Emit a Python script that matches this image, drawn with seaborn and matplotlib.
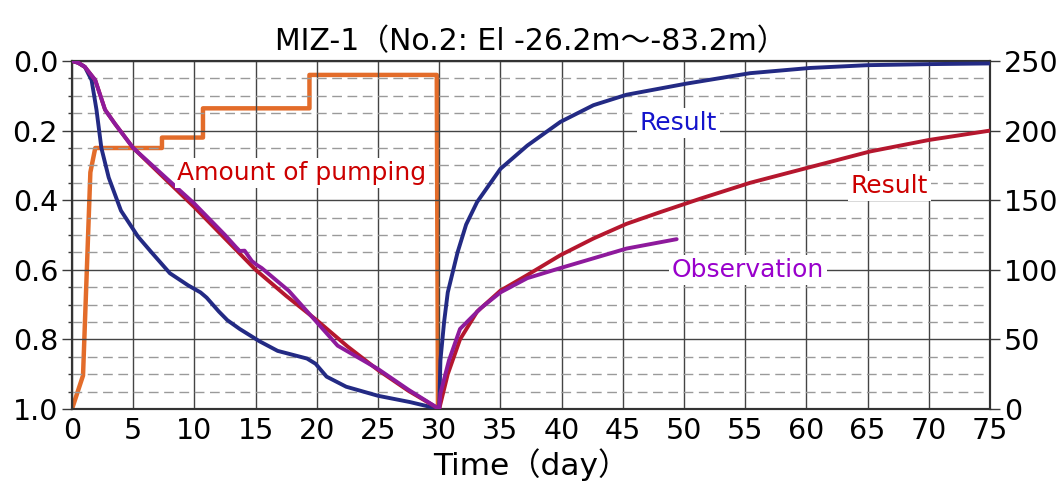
import numpy as np
import pandas as pd
import matplotlib
matplotlib.use("Agg")
import matplotlib.pyplot as plt
import seaborn as sns
from matplotlib.ticker import MultipleLocator

# ---------------- data ----------------
pump_day = [0, 0.9, 1.5, 1.9, 7.35, 7.35, 10.7, 10.7, 19.4, 19.4, 29.8, 29.9]
pump_val = [0, 24, 170, 187.5, 187.5, 195, 195, 216, 216, 240, 240, 0]

blue_day = [0, 0.5, 1.05, 1.6, 2.0, 2.4, 3.0, 4.0, 5.4, 6.5, 8.0, 9.5, 10.5, 11.0, 12.0,
            12.7, 13.7, 15.3, 16.8, 19.2, 19.9, 20.8, 22.4, 25.0, 27.6, 30.0,
            30.1, 30.4, 30.7, 31.5, 32.2, 33.1, 35.0, 37.2, 39.9, 42.6, 45.3, 50.2,
            55.4, 60.3, 65.0, 70.0, 75.0]
blue_val = [0, 0.005, 0.017, 0.055, 0.14, 0.25, 0.335, 0.43, 0.505, 0.55, 0.61, 0.645,
            0.665, 0.68, 0.72, 0.745, 0.77, 0.805, 0.833, 0.855, 0.87, 0.907, 0.936,
            0.962, 0.98, 1.0,
            0.86, 0.75, 0.665, 0.55, 0.47, 0.405, 0.31, 0.243, 0.175, 0.127, 0.097, 0.065,
            0.035, 0.02, 0.012, 0.009, 0.007]

red_day = [0, 0.5, 1.05, 1.9, 2.7, 3.5, 5.0, 7.5, 10.0, 12.5, 15.0, 17.5, 20.0, 22.5,
           25.0, 27.5, 30.0,
           30.7, 31.7, 33.1, 35.0, 37.2, 39.9, 42.6, 45.3, 48.0, 51.3, 55.4, 60.3, 65.2,
           70.0, 75.0]
red_val = [0, 0.005, 0.017, 0.055, 0.14, 0.18, 0.25, 0.335, 0.42, 0.51, 0.60, 0.675,
           0.745, 0.82, 0.888, 0.948, 1.0,
           0.90, 0.80, 0.72, 0.66, 0.615, 0.558, 0.51, 0.468, 0.435, 0.396, 0.35, 0.305,
           0.26, 0.227, 0.2]

obs_day = [0, 0.5, 1.05, 1.9, 2.7, 3.5, 5.0, 7.5, 10.0, 12.5, 13.4, 13.7, 14.1, 14.7,
           15.1, 15.5, 17.7, 19.5, 21.7, 25.0, 27.5, 30.0,
           30.1, 30.8, 31.7, 33.4, 35.0, 37.2, 39.9, 42.6, 45.3, 49.4]
obs_val = [0, 0.005, 0.017, 0.055, 0.14, 0.18, 0.25, 0.33, 0.41, 0.50, 0.535, 0.546,
           0.545, 0.575, 0.586, 0.595, 0.66, 0.731, 0.818, 0.885, 0.945, 1.0,
           0.955, 0.86, 0.77, 0.71, 0.665, 0.624, 0.595, 0.567, 0.539, 0.512]

x_ticks = list(range(0, 80, 5))
left_ticks = [0.0, 0.2, 0.4, 0.6, 0.8, 1.0]
right_ticks = [0, 50, 100, 150, 200, 250]

title = "MIZ-1（No.2: El -26.2m～-83.2m）"
xlabel = "Time（day）"

# ---------------- style ----------------
sns.set_style("white")
plt.rcParams['font.family'] = ['DejaVu Sans', 'Noto Sans CJK JP']
plt.rcParams['text.color'] = 'black'
plt.rcParams['axes.labelcolor'] = 'black'
plt.rcParams['xtick.color'] = 'black'
plt.rcParams['ytick.color'] = 'black'

fig = plt.figure(figsize=(10.6, 5.0), dpi=100)
ax = fig.add_axes([72/1060, 1 - 409/500, (990 - 72)/1060, (409 - 61)/500])
ax2 = ax.twinx()

# grid
ax.set_xlim(0, 75)
ax.set_ylim(1.0, 0.0)
ax2.set_ylim(0, 250)
ax.set_xticks(x_ticks)
ax.set_yticks(left_ticks)
ax.yaxis.set_minor_locator(MultipleLocator(0.05))
ax.grid(True, which='major', axis='both', color='#444444', linewidth=1.0, linestyle='-')
ax.grid(True, which='minor', axis='y', color='#9a9a9a', linewidth=1.0, linestyle=(0, (7, 4)))
ax.set_axisbelow(True)

# lines
lw = 2.8
sns.lineplot(x=pump_day, y=pump_val, ax=ax2, color='#e36c2a', linewidth=3.2,
             estimator=None, sort=False, zorder=2)
sns.lineplot(x=blue_day, y=blue_val, ax=ax, color='#232a84', linewidth=lw,
             estimator=None, sort=False, zorder=3)
sns.lineplot(x=red_day, y=red_val, ax=ax, color='#b5172e', linewidth=lw,
             estimator=None, sort=False, zorder=4)
sns.lineplot(x=obs_day, y=obs_val, ax=ax, color='#8e1a9c', linewidth=lw,
             estimator=None, sort=False, zorder=5)

ax.set_zorder(ax2.get_zorder() + 1)
ax.patch.set_visible(False)
ax2.grid(False)

# ticks
tick_font = 20.5
ax.tick_params(axis='x', which='major', length=0, pad=6, labelsize=tick_font,
               labelcolor='black')
ax.tick_params(axis='y', which='major', direction='out', length=7, width=1,
               color='#3a3a3a', pad=3, labelsize=tick_font, left=True, labelcolor='black')
ax.tick_params(axis='y', which='minor', direction='out', length=3, width=1,
               color='#3a3a3a', left=True)
ax.set_yticklabels([f"{v:.1f}" for v in left_ticks])
ax2.set_yticks(right_ticks)
ax2.tick_params(axis='y', direction='out', length=7, width=1, color='#3a3a3a',
                pad=3, labelsize=tick_font, right=True, labelcolor='black')
ax2.set_ylabel("")
ax.set_ylabel("")

for a in (ax, ax2):
    for s in a.spines.values():
        s.set_color('#333333')
        s.set_linewidth(1.5)

ax.set_xlabel(xlabel, fontsize=22.5, labelpad=2, color='black')
ax.set_title(title, fontsize=21.5, pad=8, color='black')

# annotations
bbox = dict(facecolor='white', edgecolor='none', pad=2)
ax.text(8.6, 0.342, "Amount of pumping", color='#cc0000', fontsize=18,
        ha='left', va='baseline', bbox=bbox, zorder=6)
ax.text(46.4, 0.198, "Result", color='#1414cc', fontsize=18,
        ha='left', va='baseline', bbox=bbox, zorder=6)
ax.text(63.6, 0.379, "Result", color='#cc0000', fontsize=18,
        ha='left', va='baseline', bbox=bbox, zorder=6)
ax.text(49.0, 0.621, "Observation", color='#9900cc', fontsize=18,
        ha='left', va='baseline', bbox=bbox, zorder=6)

fig.savefig("out.png", dpi=100, facecolor='white')
